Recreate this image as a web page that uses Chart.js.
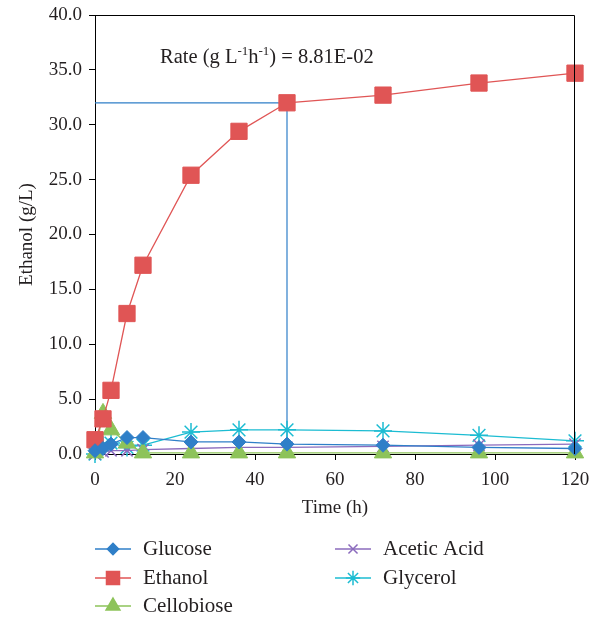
<!DOCTYPE html>
<html>
<head>
<meta charset="utf-8">
<script src="https://cdn.jsdelivr.net/npm/chart.js@4.4.1/dist/chart.umd.min.js"></script>
<style>
  html, body { margin: 0; padding: 0; background: #fff; }
  #wrap { width: 596px; height: 620px; position: relative; }
</style>
</head>
<body>
<div id="wrap"><canvas id="grafico"></canvas></div>
<script>
// Datos
const tiempos = [0, 2, 4, 8, 12, 24, 36, 48, 72, 96, 120];
const glucosa = [0.3, 0.5, 0.9, 1.5, 1.5, 1.1, 1.1, 0.9, 0.8, 0.6, 0.5];
const etanol = [1.3, 3.2, 5.8, 12.8, 17.2, 25.4, 29.4, 32.0, 32.7, 33.8, 34.7];
const celobiosa = [0.1, 3.7, 2.2, 1.0, 0.1, 0.1, 0.1, 0.1, 0.1, 0.1, 0.1];
const acetico = [0.0, 0.2, 0.3, 0.3, 0.4, 0.5, 0.6, 0.6, 0.7, 0.8, 0.9];
const glicerol = [0.0, 0.8, 1.0, 0.6, 0.8, 2.0, 2.2, 2.2, 2.1, 1.7, 1.2];

// Línea de referencia de la tasa (hasta 48 h, 32 g/L)
const tasaX = [0, 48, 48];
const tasaY = [32.0, 32.0, 0];

const ticksY = [0, 5, 10, 15, 20, 25, 30, 35, 40];
const ticksX = [0, 20, 40, 60, 80, 100, 120];

const FUENTE = '"Liberation Serif", "Times New Roman", serif';
const TEXTO = '#231f20';

function puntos(xs, ys) {
  return xs.map((x, i) => ({ x: x, y: ys[i] }));
}

const series = [
  { label: 'Glucose', data: glucosa, color: '#2f7fc8', estilo: 'rectRot', radio: 7 },
  { label: 'Ethanol', data: etanol, color: '#e05555', estilo: 'rect', radio: 11.5 },
  { label: 'Cellobiose', data: celobiosa, color: '#8dc35a', estilo: 'triangle', radio: 10 },
  { label: 'Acetic Acid', data: acetico, color: '#8b6bbd', estilo: 'crossRot', radio: 8 },
  { label: 'Glycerol', data: glicerol, color: '#1cbcd2', estilo: 'star', radio: 9 }
];

const datasets = [{
  label: 'Rate',
  data: puntos(tasaX, tasaY),
  borderColor: '#2f7fc8',
  borderWidth: 1.2,
  pointRadius: 0,
  fill: false,
  order: 10
}].concat(series.map(s => ({
  label: s.label,
  data: puntos(tiempos, s.data),
  borderColor: s.color,
  backgroundColor: s.color,
  borderWidth: 1.3,
  pointStyle: s.estilo,
  pointRadius: s.radio,
  pointBorderWidth: (s.estilo === 'crossRot' || s.estilo === 'star') ? 1.5 : 1,
  fill: false
})));

// Marco, texto de tasa y leyenda
const pluginExtras = {
  id: 'extras',
  afterDraw(chart) {
    const ctx = chart.ctx;
    const a = chart.chartArea;
    ctx.save();
    ctx.strokeStyle = '#000';
    ctx.lineWidth = 1;
    ctx.beginPath();
    ctx.moveTo(a.left, a.top + 0.5);
    ctx.lineTo(a.right - 0.5, a.top + 0.5);
    ctx.lineTo(a.right - 0.5, a.bottom);
    ctx.stroke();

    // Texto "Rate (g L-1h-1) = 8.81E-02"
    const partes = [
      ['Rate (g L', false], ['-1', true], ['h', false], ['-1', true], [') = 8.81E-02', false]
    ];
    let x = 160;
    const y = 58;
    ctx.fillStyle = TEXTO;
    ctx.textBaseline = 'middle';
    ctx.textAlign = 'left';
    partes.forEach(p => {
      ctx.font = (p[1] ? '13px ' : '20.5px ') + FUENTE;
      ctx.fillText(p[0], x, p[1] ? y - 6 : y);
      x += ctx.measureText(p[0]).width;
    });

    // Leyenda en dos columnas
    const posiciones = [[95, 549], [95, 578], [95, 606], [335, 549], [335, 578]];
    series.forEach((s, i) => {
      const px = posiciones[i][0];
      const py = posiciones[i][1];
      ctx.strokeStyle = s.color;
      ctx.fillStyle = s.color;
      ctx.lineWidth = 1.3;
      ctx.beginPath();
      ctx.moveTo(px, py);
      ctx.lineTo(px + 36, py);
      ctx.stroke();
      ctx.lineWidth = 1.5;
      Chart.helpers.drawPoint(ctx, {
        pointStyle: s.estilo,
        radius: s.radio * 0.8,
        borderWidth: 1.5,
        rotation: 0
      }, px + 18, py);
      ctx.font = '21px ' + FUENTE;
      ctx.fillStyle = TEXTO;
      ctx.fillText(s.label, px + 48, py);
    });
    ctx.restore();
  }
};

new Chart(document.getElementById('grafico'), {
  type: 'line',
  data: { datasets: datasets },
  options: {
    responsive: true,
    maintainAspectRatio: false,
    animation: false,
    layout: { padding: { left: 0, right: 21, top: 15, bottom: 95 } },
    plugins: {
      legend: { display: false },
      tooltip: { enabled: false }
    },
    elements: { line: { tension: 0 } },
    clip: false,
    scales: {
      x: {
        type: 'linear',
        min: 0,
        max: 120,
        afterBuildTicks: scale => { scale.ticks = ticksX.map(v => ({ value: v })); },
        afterFit: scale => {
          scale.height = 71;
          scale.paddingLeft = 0;
          scale.paddingRight = 0;
        },
        grid: { display: true, drawOnChartArea: false, drawTicks: true, tickLength: 6, color: '#000' },
        border: { color: '#000', width: 1 },
        ticks: { color: TEXTO, font: { family: FUENTE, size: 19 }, padding: 9 },
        title: { display: true, text: 'Time (h)', color: TEXTO, font: { family: FUENTE, size: 19 }, padding: { top: 0, bottom: 6 } }
      },
      y: {
        min: 0,
        max: 40,
        afterBuildTicks: scale => { scale.ticks = ticksY.map(v => ({ value: v })); },
        afterFit: scale => {
          scale.width = 95;
          scale.paddingTop = 0;
          scale.paddingBottom = 0;
        },
        grid: { display: true, drawOnChartArea: false, drawTicks: true, tickLength: 6, color: '#000' },
        border: { color: '#000', width: 1 },
        ticks: {
          color: TEXTO,
          font: { family: FUENTE, size: 19 },
          padding: 7,
          callback: v => Number(v).toFixed(1)
        },
        title: { display: true, text: 'Ethanol (g/L)', color: TEXTO, font: { family: FUENTE, size: 19 }, padding: { top: 16, bottom: 0 } }
      }
    }
  },
  plugins: [pluginExtras]
});
</script>
</body>
</html>
